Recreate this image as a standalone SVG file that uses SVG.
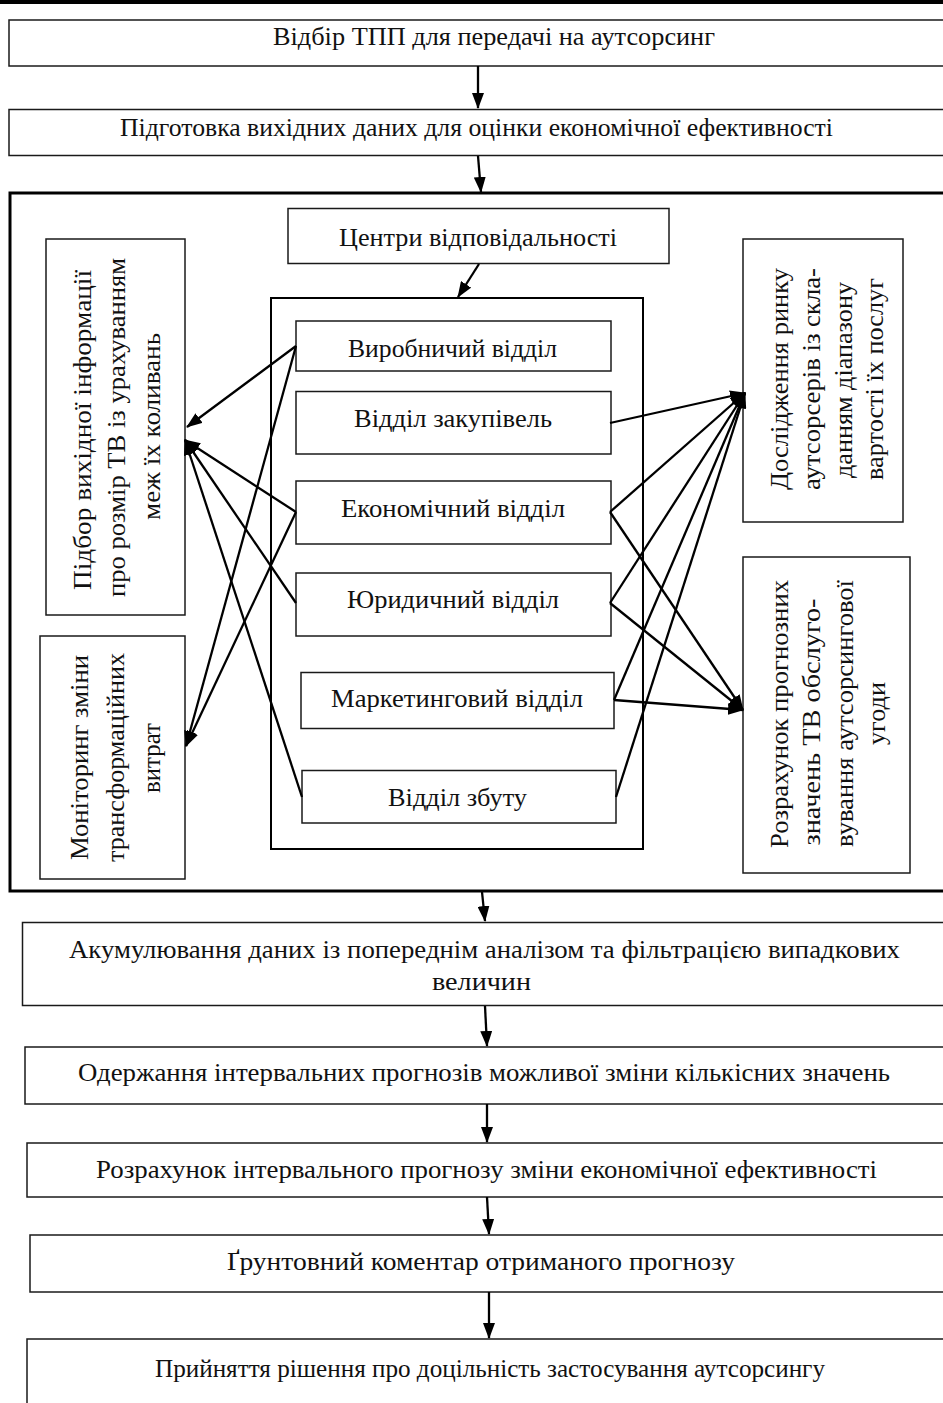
<svg xmlns="http://www.w3.org/2000/svg" width="943" height="1403" viewBox="0 0 943 1403">
<style>
.b{fill:#fff;stroke:#1a1a1a;stroke-width:1.5}
.t{font-family:"Liberation Serif","Times New Roman",serif;font-size:25px;fill:#111;text-anchor:middle}
.c{stroke:#000;stroke-width:2.3;fill:none;marker-end:url(#ah)}
</style>
<defs>
<marker id="ah" markerUnits="userSpaceOnUse" markerWidth="16" markerHeight="12" refX="15" refY="6" orient="auto">
<path d="M0,0 L16,6 L0,12 z" fill="#000"/>
</marker>
</defs>
<rect width="943" height="1403" fill="#fff"/>
<rect x="0" y="0" width="943" height="4" fill="#000"/>

<g id="n1"><rect class="b" x="9" y="20" width="950" height="46"/><text class="t" x="494" y="45" textLength="442" lengthAdjust="spacingAndGlyphs">Відбір ТПП для передачі на аутсорсинг</text></g>
<g id="n2"><rect class="b" x="9" y="109.5" width="950" height="46"/><text class="t" x="476.5" y="136" textLength="713" lengthAdjust="spacingAndGlyphs">Підготовка вихідних даних для оцінки економічної ефективності</text></g>

<g id="container"><rect x="10" y="193" width="945" height="698" fill="none" stroke="#000" stroke-width="3"/></g>
<g id="centres"><rect class="b" x="288" y="208.5" width="381" height="55"/><text class="t" x="478" y="246" textLength="278" lengthAdjust="spacingAndGlyphs">Центри відповідальності</text></g>
<g id="inner"><rect x="271" y="298" width="372" height="551" fill="none" stroke="#000" stroke-width="2"/></g>

<g id="d1"><rect class="b" x="296" y="321" width="315" height="50"/><text class="t" x="452.5" y="357" textLength="209" lengthAdjust="spacingAndGlyphs">Виробничий відділ</text></g>
<g id="d2"><rect class="b" x="296" y="391.5" width="315" height="62.5"/><text class="t" x="453" y="427" textLength="198" lengthAdjust="spacingAndGlyphs">Відділ закупівель</text></g>
<g id="d3"><rect class="b" x="296" y="481" width="315" height="63"/><text class="t" x="453" y="517" textLength="224" lengthAdjust="spacingAndGlyphs">Економічний відділ</text></g>
<g id="d4"><rect class="b" x="296" y="573" width="315" height="63"/><text class="t" x="453" y="608" textLength="212" lengthAdjust="spacingAndGlyphs">Юридичний відділ</text></g>
<g id="d5"><rect class="b" x="301" y="672.5" width="313" height="56"/><text class="t" x="457" y="707" textLength="252" lengthAdjust="spacingAndGlyphs">Маркетинговий відділ</text></g>
<g id="d6"><rect class="b" x="302" y="770.5" width="314" height="52.5"/><text class="t" x="457.5" y="806" textLength="139" lengthAdjust="spacingAndGlyphs">Відділ збуту</text></g>

<g id="l1"><rect class="b" x="46" y="239" width="139" height="376"/>
<text class="t" transform="rotate(-90)" x="-430" y="91" textLength="320" lengthAdjust="spacingAndGlyphs">Підбор вихідної інформації</text>
<text class="t" transform="rotate(-90)" x="-427.5" y="125" textLength="339" lengthAdjust="spacingAndGlyphs">про розмір ТВ із урахуванням</text>
<text class="t" transform="rotate(-90)" x="-426.5" y="160" textLength="187" lengthAdjust="spacingAndGlyphs">меж їх коливань</text></g>
<g id="l2"><rect class="b" x="40" y="636" width="145" height="243"/>
<text class="t" transform="rotate(-90)" x="-757.5" y="88" textLength="205" lengthAdjust="spacingAndGlyphs">Моніторинг зміни</text>
<text class="t" transform="rotate(-90)" x="-757.5" y="124" textLength="209" lengthAdjust="spacingAndGlyphs">трансформаційних</text>
<text class="t" transform="rotate(-90)" x="-758" y="160" textLength="70" lengthAdjust="spacingAndGlyphs">витрат</text></g>

<g id="r1"><rect class="b" x="743" y="239" width="160" height="283"/>
<text class="t" transform="rotate(-90)" x="-379" y="788" textLength="222" lengthAdjust="spacingAndGlyphs">Дослідження ринку</text>
<text class="t" transform="rotate(-90)" x="-379" y="820" textLength="222" lengthAdjust="spacingAndGlyphs">аутсорсерів із скла-</text>
<text class="t" transform="rotate(-90)" x="-380" y="852" textLength="196" lengthAdjust="spacingAndGlyphs">данням діапазону</text>
<text class="t" transform="rotate(-90)" x="-379" y="883" textLength="202" lengthAdjust="spacingAndGlyphs">вартості їх послуг</text></g>
<g id="r2"><rect class="b" x="743" y="557" width="167" height="316"/>
<text class="t" transform="rotate(-90)" x="-714" y="788" textLength="268" lengthAdjust="spacingAndGlyphs">Розрахунок прогнозних</text>
<text class="t" transform="rotate(-90)" x="-722" y="820" textLength="247" lengthAdjust="spacingAndGlyphs">значень ТВ обслуго-</text>
<text class="t" transform="rotate(-90)" x="-713.5" y="853" textLength="267" lengthAdjust="spacingAndGlyphs">вування аутсорсингової</text>
<text class="t" transform="rotate(-90)" x="-713.5" y="885" textLength="63" lengthAdjust="spacingAndGlyphs">угоди</text></g>

<g id="n3"><rect class="b" x="22.5" y="922.5" width="940" height="83"/><text class="t" x="484.5" y="958" textLength="831" lengthAdjust="spacingAndGlyphs">Акумулювання даних із попереднім аналізом та фільтрацією випадкових</text><text class="t" x="481.5" y="990" textLength="99" lengthAdjust="spacingAndGlyphs">величин</text></g>
<g id="n4"><rect class="b" x="25" y="1047" width="940" height="57"/><text class="t" x="484" y="1081" textLength="812" lengthAdjust="spacingAndGlyphs">Одержання інтервальних прогнозів можливої зміни кількісних значень</text></g>
<g id="n5"><rect class="b" x="27" y="1143" width="940" height="54"/><text class="t" x="486.5" y="1178" textLength="781" lengthAdjust="spacingAndGlyphs">Розрахунок інтервального прогнозу зміни економічної ефективності</text></g>
<g id="n6"><rect class="b" x="30" y="1235" width="940" height="57"/><text class="t" x="481" y="1270" textLength="508" lengthAdjust="spacingAndGlyphs">Ґрунтовний коментар отриманого прогнозу</text></g>
<g id="n7"><rect class="b" x="27" y="1339" width="940" height="100"/><text class="t" x="490" y="1377" textLength="670" lengthAdjust="spacingAndGlyphs">Прийняття рішення про доцільність застосування аутсорсингу</text></g>

<g id="connectors">
<line class="c" x1="478" y1="66" x2="478" y2="108"/>
<line class="c" x1="478" y1="156" x2="481" y2="192"/>
<line class="c" x1="479" y1="264" x2="458" y2="297"/>
<line class="c" x1="482" y1="892" x2="485" y2="921"/>
<line class="c" x1="485" y1="1006" x2="487" y2="1046"/>
<line class="c" x1="487" y1="1104" x2="487" y2="1142"/>
<line class="c" x1="487" y1="1197" x2="489" y2="1234"/>
<line class="c" x1="489" y1="1292" x2="489" y2="1338"/>

<line class="c" x1="296" y1="346" x2="187" y2="427"/>
<line class="c" x1="296" y1="346" x2="186" y2="746"/>
<line class="c" x1="296" y1="512" x2="185" y2="440"/>
<line class="c" x1="296" y1="512" x2="186" y2="746"/>
<line class="c" x1="296" y1="603" x2="185" y2="440"/>
<line class="c" x1="302" y1="797" x2="185" y2="440"/>

<line class="c" x1="610" y1="423" x2="745" y2="393"/>
<line class="c" x1="610" y1="512" x2="745" y2="393"/>
<line class="c" x1="610" y1="603" x2="745" y2="393"/>
<line class="c" x1="614" y1="700" x2="745" y2="393"/>
<line class="c" x1="616" y1="797" x2="745" y2="393"/>
<line class="c" x1="610" y1="512" x2="743" y2="710"/>
<line class="c" x1="610" y1="603" x2="743" y2="710"/>
<line class="c" x1="614" y1="700" x2="743" y2="710"/>
</g>
</svg>
